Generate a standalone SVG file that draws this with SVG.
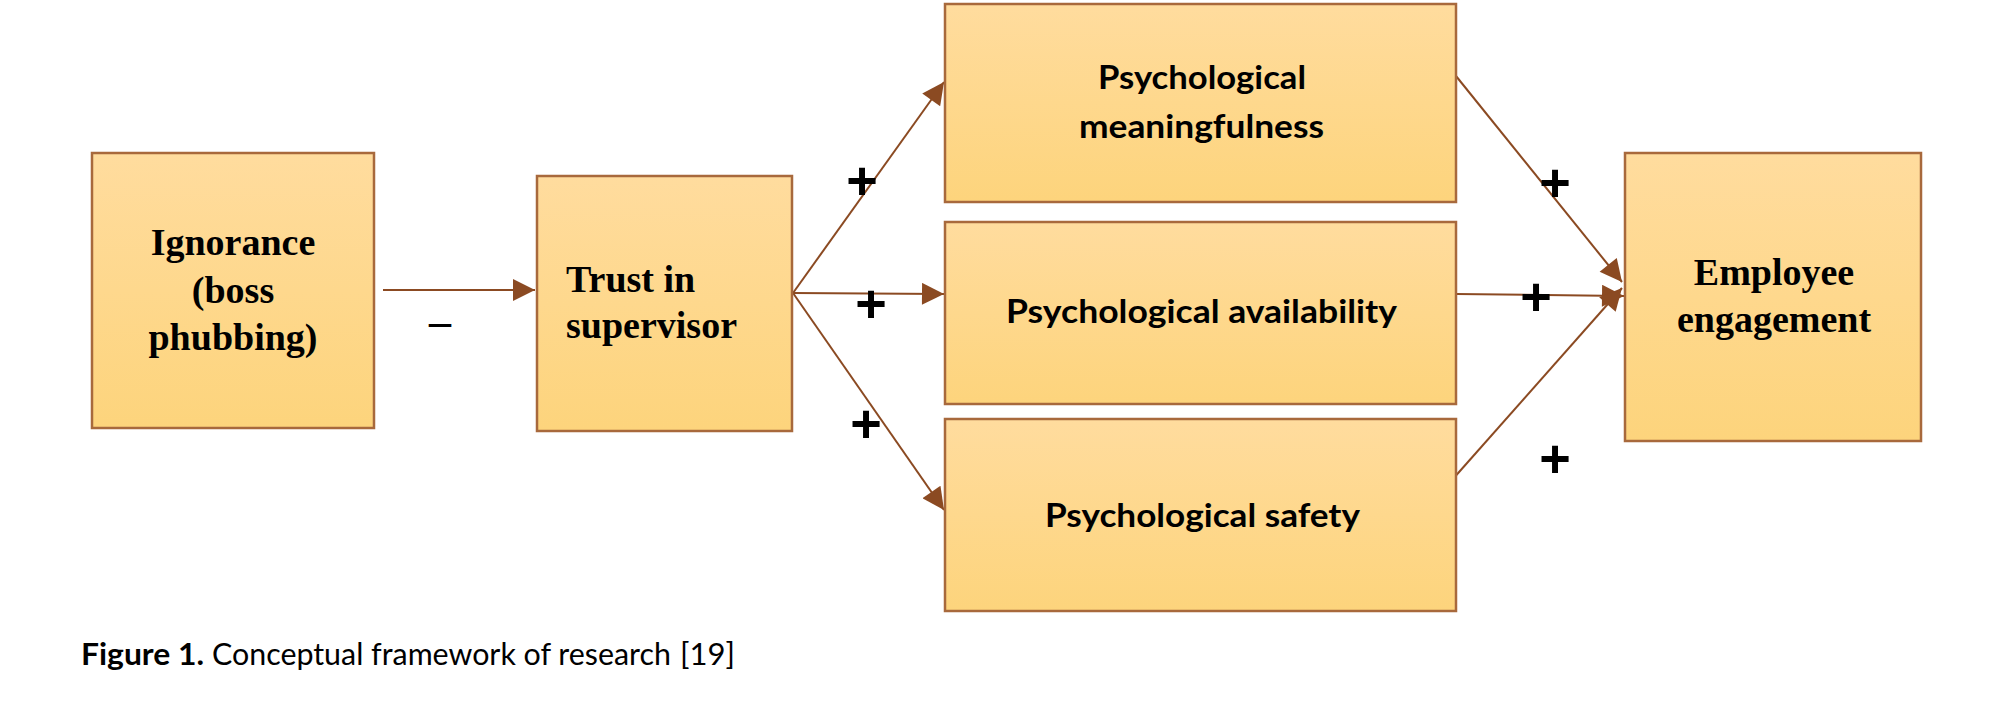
<svg xmlns="http://www.w3.org/2000/svg" width="2000" height="710" viewBox="0 0 2000 710">
<defs>
<linearGradient id="g" x1="0" y1="0" x2="0" y2="1">
<stop offset="0" stop-color="#ffdc9e"/>
<stop offset="1" stop-color="#fdd47c"/>
</linearGradient>
<marker id="ah" viewBox="0 0 10 10" refX="10" refY="5" markerWidth="24" markerHeight="22" markerUnits="userSpaceOnUse" orient="auto">
<path d="M0,0 L10,5 L0,10 z" fill="#8b4a22"/>
</marker>
</defs>
<style>
.box{fill:url(#g);stroke:#a8693c;stroke-width:2.5}
.tnr{font-family:"Liberation Serif","Times New Roman",serif;font-weight:bold;font-size:38px;fill:#000}
.cal{font-family:Lato,"Open Sans",sans-serif;font-weight:bold;font-size:32px;fill:#000}
.sign{font-family:"Liberation Sans",Arial,sans-serif;font-weight:bold;font-size:54px;fill:#000;text-anchor:middle}
.conn{stroke:#8b4a22;stroke-width:2;fill:none;marker-end:url(#ah)}
.cap{font-family:Lato,"Open Sans",sans-serif;font-size:30px;fill:#000}
</style>
<rect width="2000" height="710" fill="#fff"/>
<g id="connectors">
<line class="conn" x1="383" y1="290" x2="535" y2="290"/>
<line class="conn" x1="793" y1="293" x2="944" y2="82"/>
<line class="conn" x1="793" y1="293" x2="944" y2="294"/>
<line class="conn" x1="793" y1="293" x2="944" y2="510"/>
<line class="conn" x1="1456" y1="76" x2="1622" y2="282"/>
<line class="conn" x1="1456" y1="294" x2="1624" y2="296"/>
<line class="conn" x1="1452" y1="480" x2="1622" y2="288"/>
<text class="sign" x="862" y="199">+</text>
<text class="sign" x="871" y="322">+</text>
<text class="sign" x="866" y="442">+</text>
<text class="sign" x="1555" y="201">+</text>
<text class="sign" x="1536" y="315">+</text>
<text class="sign" x="1555" y="477">+</text>
<text x="440" y="336" font-family="Liberation Serif,serif" font-weight="bold" font-size="44" text-anchor="middle">–</text>
</g>
<g id="ignorance">
<rect class="box" x="92" y="153" width="282" height="275"/>
<text class="tnr" x="233" y="255" text-anchor="middle">Ignorance</text>
<text class="tnr" x="233" y="303" text-anchor="middle">(boss</text>
<text class="tnr" x="233" y="350" text-anchor="middle">phubbing)</text>
</g>
<g id="trust">
<rect class="box" x="537" y="176" width="255" height="255"/>
<text class="tnr" x="566" y="292">Trust in</text>
<text class="tnr" x="566" y="338">supervisor</text>
</g>
<g id="meaningfulness">
<rect class="box" x="945" y="4" width="511" height="198"/>
<text class="cal" x="1098" y="89" textLength="208" lengthAdjust="spacingAndGlyphs">Psychological</text>
<text class="cal" x="1079" y="138" textLength="245" lengthAdjust="spacingAndGlyphs">meaningfulness</text>
</g>
<g id="availability">
<rect class="box" x="945" y="222" width="511" height="182"/>
<text class="cal" x="1006" y="323" textLength="391" lengthAdjust="spacingAndGlyphs">Psychological availability</text>
</g>
<g id="safety">
<rect class="box" x="945" y="419" width="511" height="192"/>
<text class="cal" x="1045" y="527" textLength="315" lengthAdjust="spacingAndGlyphs">Psychological safety</text>
</g>
<g id="engagement">
<rect class="box" x="1625" y="153" width="296" height="288"/>
<text class="tnr" x="1774" y="285" text-anchor="middle">Employee</text>
<text class="tnr" x="1774" y="332" text-anchor="middle">engagement</text>
</g>
<g id="caption">
<text class="cap" x="81" y="665" font-weight="bold" textLength="123" lengthAdjust="spacingAndGlyphs">Figure 1.</text>
<text class="cap" x="212" y="665" textLength="459" lengthAdjust="spacingAndGlyphs">Conceptual framework of research</text>
<text class="cap" x="680" y="665" fill="#4a5aa8" textLength="55" lengthAdjust="spacingAndGlyphs">[19]</text>
</g>
</svg>
